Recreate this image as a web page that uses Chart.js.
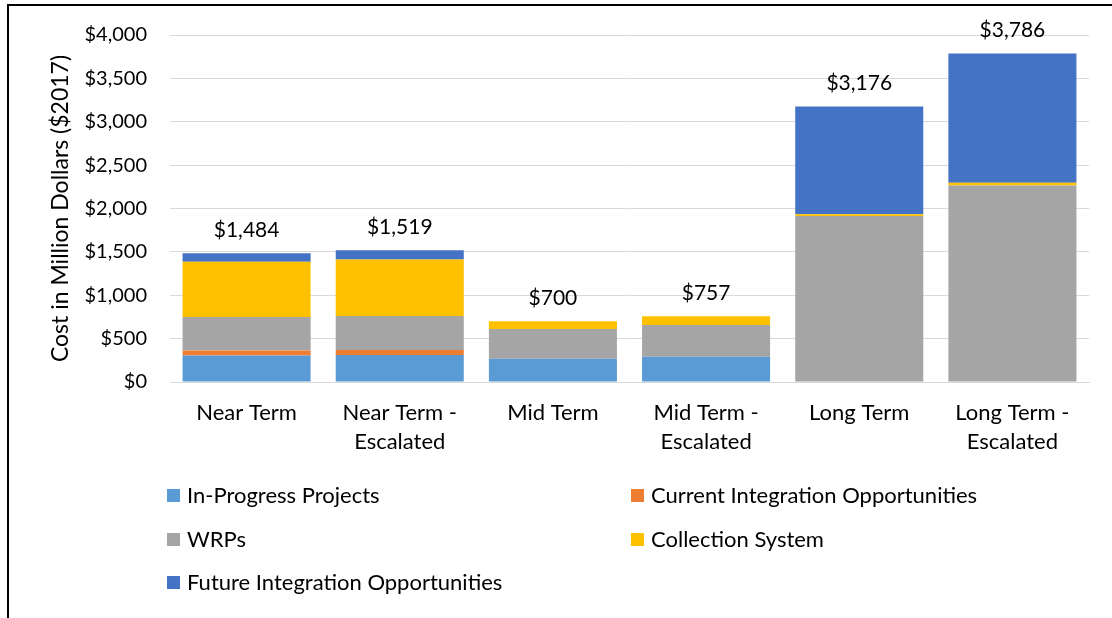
<!DOCTYPE html>
<html>
<head>
<meta charset="utf-8">
<script src="https://cdn.jsdelivr.net/npm/chart.js@4.4.1/dist/chart.umd.min.js"></script>
<style>
  html, body { margin: 0; padding: 0; background: #fff; overflow: hidden; }
  #wrap { position: relative; width: 1112px; height: 618px; }
  #frame { position: absolute; left: 7px; top: 4px; width: 1200px; height: 700px; border: 2px solid #000; box-sizing: border-box; }
  canvas { position: absolute; left: 0; top: 0; }
</style>
</head>
<body>
<div id="wrap">
  <div id="frame"></div>
  <canvas id="chart" width="1112" height="618"></canvas>
</div>
<script>
const FONT = 'Lato, "Liberation Sans", sans-serif';

const categories = [
  ['Near Term'],
  ['Near Term -', 'Escalated'],
  ['Mid Term'],
  ['Mid Term -', 'Escalated'],
  ['Long Term'],
  ['Long Term -', 'Escalated']
];

const inProgress = [306, 310, 267, 290, 0, 0];
const currentIntegration = [57, 60, 0, 0, 0, 0];
const wrps = [385, 390, 344, 367, 1914, 2266];
const collectionSystem = [639, 653, 89, 100, 20, 30];
const futureIntegration = [97, 106, 0, 0, 1242, 1490];

const seriesNames = ['In-Progress Projects', 'Current Integration Opportunities', 'WRPs', 'Collection System', 'Future Integration Opportunities'];
const seriesColors = ['#5B9BD5', '#ED7D31', '#A5A5A5', '#FFC000', '#4472C4'];

const yTicks = [0, 500, 1000, 1500, 2000, 2500, 3000, 3500, 4000];

function money(v) {
  return '$' + Math.round(v).toLocaleString('en-US');
}

// totals above each stack
const totalsPlugin = {
  id: 'totals',
  afterDatasetsDraw(chart) {
    const ctx = chart.ctx;
    const y = chart.scales.y;
    const x = chart.scales.x;
    ctx.save();
    ctx.font = '21px ' + FONT;
    ctx.fillStyle = '#000';
    ctx.textAlign = 'center';
    ctx.textBaseline = 'middle';
    categories.forEach((c, i) => {
      let sum = 0;
      chart.data.datasets.forEach(ds => { sum += ds.data[i]; });
      ctx.fillText(money(sum), x.getPixelForValue(i), y.getPixelForValue(sum) - 23);
    });
    ctx.restore();
  }
};

// legend in two columns under the axis
const legendPlugin = {
  id: 'gridLegend',
  afterDraw(chart) {
    const ctx = chart.ctx;
    const colX = [167, 631];
    const rowY = [495, 539, 582];
    ctx.save();
    ctx.font = '22px ' + FONT;
    ctx.textAlign = 'left';
    ctx.textBaseline = 'middle';
    chart.data.datasets.forEach((ds, i) => {
      const cx = colX[i % 2];
      const cy = rowY[Math.floor(i / 2)];
      ctx.fillStyle = ds.backgroundColor;
      ctx.fillRect(cx, cy - 6, 13, 13);
      ctx.fillStyle = '#000';
      ctx.fillText(ds.label, cx + 20, cy + 1);
    });
    ctx.restore();
  }
};

const seriesData = [inProgress, currentIntegration, wrps, collectionSystem, futureIntegration];

new Chart(document.getElementById('chart'), {
  type: 'bar',
  data: {
    labels: categories,
    datasets: seriesData.map((d, i) => ({
      label: seriesNames[i],
      data: d,
      backgroundColor: seriesColors[i],
      borderWidth: 0,
      categoryPercentage: 1,
      barPercentage: 0.836
    }))
  },
  options: {
    responsive: false,
    animation: false,
    layout: { padding: { left: 47, top: 34, right: 23, bottom: 0 } },
    plugins: {
      legend: { display: false },
      tooltip: { enabled: false }
    },
    scales: {
      x: {
        stacked: true,
        grid: { display: false, drawTicks: false },
        border: { color: '#D9D9D9', width: 1 },
        ticks: { color: '#000', font: { family: FONT, size: 22, lineHeight: 1.3 }, padding: 17, maxRotation: 0, autoSkip: false },
        afterFit(scale) { scale.height = 236; }
      },
      y: {
        stacked: true,
        min: 0,
        max: 4000,
        afterBuildTicks(scale) { scale.ticks = yTicks.map(v => ({ value: v })); },
        grid: { color: '#D9D9D9', lineWidth: 1, drawTicks: false },
        border: { display: false },
        ticks: {
          color: '#000',
          font: { family: FONT, size: 20 },
          padding: 23,
          callback: v => money(v)
        },
        title: {
          display: true,
          text: 'Cost in Million Dollars ($2017)',
          color: '#000',
          font: { family: FONT, size: 23 },
          padding: 0
        },
        afterFit(scale) { scale.width = 123; }
      }
    }
  },
  plugins: [totalsPlugin, legendPlugin]
});
</script>
</body>
</html>
